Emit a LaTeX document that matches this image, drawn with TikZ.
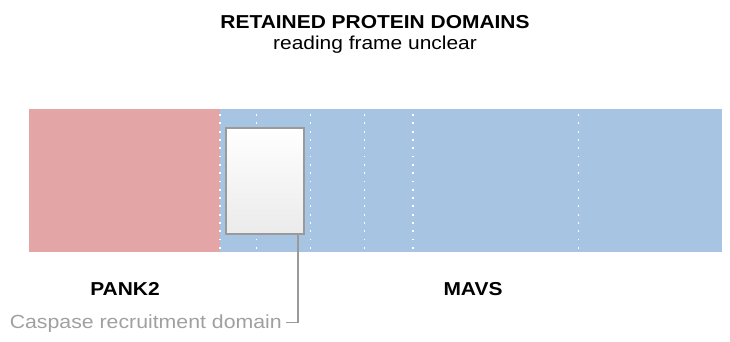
\documentclass[tikz,border=0pt]{standalone}
\usepackage{fontspec}
\setmainfont{Liberation Sans}[FakeStretch=1.12]
\definecolor{pankc}{HTML}{E3A5A5}
\definecolor{mavsc}{HTML}{A7C4E3}
\definecolor{edgegray}{HTML}{9A9A9A}
\definecolor{capgray}{HTML}{A0A0A0}
\tikzset{
  titlelab/.style={inner sep=0pt, font=\fontsize{18.7}{22}\selectfont\bfseries, text=black},
  sublab/.style={inner sep=0pt, font=\fontsize{18.7}{22}\selectfont, text=black},
  domlab/.style={inner sep=0pt, font=\fontsize{18.7}{22}\selectfont\bfseries, text=black},
  caslab/.style={inner sep=0pt, font=\fontsize{19}{22}\selectfont, text=capgray},
  segment/.style={draw=none, inner sep=0pt, outer sep=0pt, anchor=north west},
  cardbox/.style={draw=edgegray, line width=1.8pt, inner sep=0pt, anchor=north west,
    top color=white, middle color=white, bottom color=black!8},
  conn/.style={draw=edgegray, line width=1.7pt},
  dotsq/.style={fill=white}
}
\begin{document}
\begin{tikzpicture}[x=1pt,y=-1pt]
\useasboundingbox (0,0) rectangle (730,342);
% title
\node[titlelab, anchor=base] (title) at (375,29) {RETAINED PROTEIN DOMAINS};
\node[sublab, anchor=base] (sub) at (375,50) {reading frame unclear};
% bar segments
\node[segment, fill=pankc, minimum width=191pt, minimum height=143pt] (pank) at (29,109) {};
\node[segment, fill=mavsc, minimum width=502pt, minimum height=143pt] (mavs) at (220,109) {};
% dotted separators
\foreach \x in {220,256.5,310.5,364.5,413,578.5}{
  \foreach \k in {0,...,16}{
    \fill[dotsq] (\x-0.9,115+\k*8.3-0.9) rectangle ++(1.8,1.8);
  }
}
% domain box
\node[cardbox, minimum width=78pt, minimum height=106pt] (card) at (225,127) {};
% labels
\node[domlab, anchor=base] (pank2) at (125,295) {PANK2};
\node[domlab, anchor=base] (mavslab) at (473,295) {MAVS};
\node[caslab, anchor=base east] (casp) at (282,328) {Caspase recruitment domain};
% connector
\coordinate (tick) at (285.5,322.5);
\draw[conn] ([xshift=-7pt]card.south east) |- (tick);
\end{tikzpicture}
\end{document}
